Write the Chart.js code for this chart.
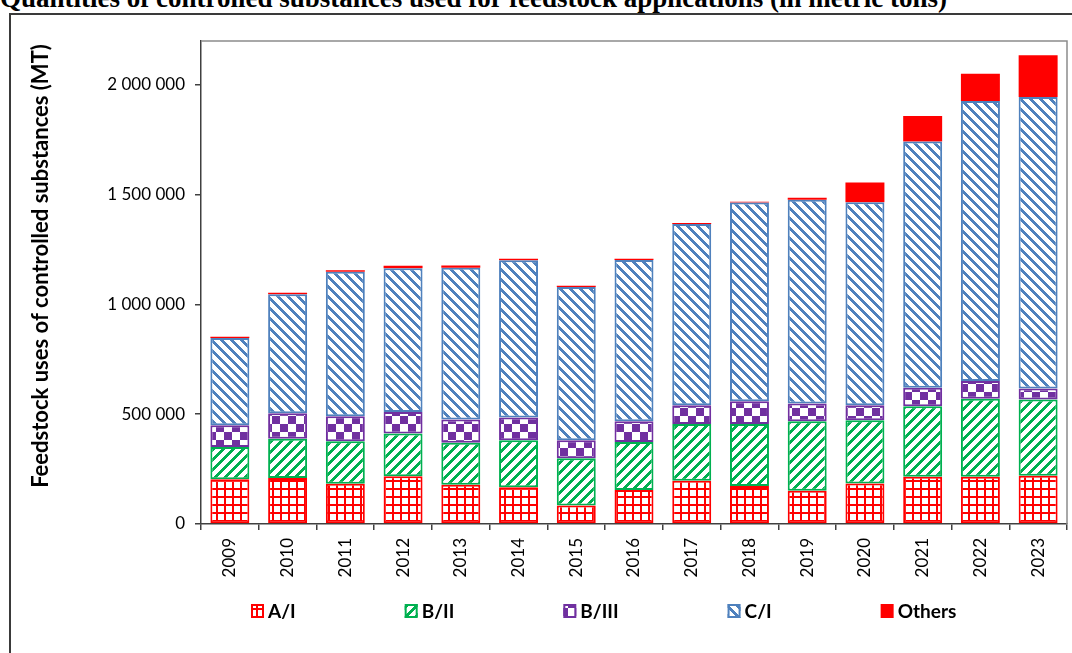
<!DOCTYPE html>
<html>
<head>
<meta charset="utf-8">
<script src="https://cdn.jsdelivr.net/npm/chart.js@4.4.1/dist/chart.umd.min.js"></script>
<style>
  html, body { margin: 0; padding: 0; background: #fff; overflow: hidden; }
  body { width: 1072px; height: 653px; position: relative; }
  #title { position: absolute; left: 0; top: -15px; font: bold 27px "Liberation Serif", serif; line-height: 27px; white-space: nowrap; color: #000; }
  #frame { position: absolute; left: 9px; top: 13px; width: 1100px; height: 700px; border: 2px solid #3a3a3a; box-sizing: border-box; }
  #chart { position: absolute; left: 0; top: 0; }
</style>
</head>
<body>
<div id="title">Quantities of controlled substances used for feedstock applications (in metric tons)</div>
<div id="frame"></div>
<canvas id="chart" width="1072" height="653"></canvas>
<script>
const years = ["2009", "2010", "2011", "2012", "2013", "2014", "2015", "2016", "2017", "2018", "2019", "2020", "2021", "2022", "2023"];
const aI = [204000, 210000, 183000, 218000, 179000, 167000, 84000, 155000, 197000, 173000, 151000, 185000, 215000, 215000, 220000];
const bII = [147000, 178000, 194000, 194000, 191000, 215000, 215000, 219000, 258000, 282000, 317000, 288000, 321000, 356000, 347000];
const bIII = [99000, 116000, 114000, 98000, 106000, 103000, 83000, 94000, 86000, 104000, 81000, 68000, 85000, 80000, 50000];
const cI = [397000, 543000, 658000, 655000, 691000, 716000, 698000, 735000, 826000, 905000, 928000, 924000, 1121000, 1276000, 1328000];
const others = [6000, 6000, 7000, 11000, 10000, 7000, 5000, 5000, 4000, 4000, 9000, 91000, 116000, 124000, 190000];
const yTicks = [0, 500000, 1000000, 1500000, 2000000];
const yMax = 2200000;

const canvas = document.getElementById("chart");
const ctx = canvas.getContext("2d");

// excel-like fill patterns
function makePattern(color, kind) {
  const s = kind === "check" ? 16 : (kind === "grid" ? 8 : 10);
  const c = document.createElement("canvas");
  c.width = s; c.height = s;
  const g = c.getContext("2d");
  g.fillStyle = "#fff";
  g.fillRect(0, 0, s, s);
  g.fillStyle = color;
  if (kind === "grid") {
    g.fillRect(0, 0, s, 2);
    g.fillRect(0, 0, 2, s);
  } else if (kind === "check") {
    g.fillRect(0, 0, 8, 8);
    g.fillRect(8, 8, 8, 8);
  } else {
    for (let y = 0; y < s; y++) {
      for (let x = 0; x < s; x++) {
        const d = kind === "up" ? (x + y) % s : ((x - y) % s + s) % s;
        if (d < 4) g.fillRect(x, y, 1, 1);
      }
    }
  }
  return ctx.createPattern(c, "repeat");
}

const series = [
  { label: "A/I", data: aI, color: "#FF0000", kind: "grid" },
  { label: "B/II", data: bII, color: "#00B050", kind: "up" },
  { label: "B/III", data: bIII, color: "#7030A0", kind: "check" },
  { label: "C/I", data: cI, color: "#4F81BD", kind: "down" },
  { label: "Others", data: others, color: "#FF0000", kind: "solid" }
];

const fmt = v => String(v).replace(/\B(?=(\d{3})+(?!\d))/g, " ");

const plotFrame = {
  id: "plotFrame",
  beforeDatasetsDraw(chart) {
    const { ctx, chartArea: a } = chart;
    ctx.save();
    ctx.strokeStyle = "#8c8c8c";
    ctx.lineWidth = 1.5;
    ctx.beginPath();
    ctx.moveTo(a.left, a.top);
    ctx.lineTo(a.right, a.top);
    ctx.lineTo(a.right, a.bottom);
    ctx.stroke();
    ctx.restore();
  }
};

const extras = {
  id: "extras",
  afterDraw(chart) {
    const ctx = chart.ctx;
    ctx.save();
    // y axis title
    ctx.translate(41, 266);
    ctx.rotate(-Math.PI / 2);
    ctx.font = "bold 22px Lato";
    ctx.fillStyle = "#000";
    ctx.textAlign = "center";
    ctx.textBaseline = "middle";
    ctx.fillText("Feedstock uses of controlled substances (MT)", 0, 0);
    ctx.restore();

    // legend
    ctx.save();
    ctx.font = "bold 19px Lato";
    ctx.textBaseline = "middle";
    let x = 251;
    const y = 611;
    chart.data.datasets.forEach(ds => {
      ctx.fillStyle = ds.backgroundColor;
      ctx.fillRect(x, y - 7, 13, 14);
      if (ds.borderWidth) {
        ctx.strokeStyle = ds.borderColor;
        ctx.lineWidth = 2;
        ctx.strokeRect(x + 1, y - 6, 11, 12);
      }
      ctx.fillStyle = "#000";
      ctx.fillText(ds.label, x + 17, y + 1);
      x += 17 + ctx.measureText(ds.label).width + 109;
    });
    ctx.restore();
  }
};

Chart.defaults.font.family = "Lato";
Chart.defaults.color = "#000";

new Chart(ctx, {
  type: "bar",
  data: {
    labels: years,
    datasets: series.map(s => ({
      label: s.label,
      data: s.data,
      backgroundColor: s.kind === "solid" ? s.color : makePattern(s.color, s.kind),
      borderColor: s.color,
      borderWidth: s.kind === "solid" ? 0 : 2,
      borderSkipped: false,
      barPercentage: 0.675,
      categoryPercentage: 1
    }))
  },
  options: {
    responsive: false,
    animation: false,
    devicePixelRatio: 1,
    layout: { padding: { left: 90, top: 41, right: 5, bottom: 69 } },
    plugins: {
      legend: { display: false },
      tooltip: { enabled: false }
    },
    scales: {
      x: {
        stacked: true,
        ticks: { minRotation: 90, maxRotation: 90, autoSkip: false, padding: 8, font: { size: 17 } },
        grid: { drawOnChartArea: false, tickLength: 6, color: "#404040", lineWidth: 1.5, offset: true },
        border: { color: "#404040", width: 1.5 },
        afterFit: s => { s.height = 60; }
      },
      y: {
        stacked: true,
        min: 0,
        max: yMax,
        afterBuildTicks: s => { s.ticks = yTicks.map(v => ({ value: v })); },
        ticks: { padding: 10, autoSkip: false, font: { size: 17 }, callback: v => fmt(v) },
        grid: { drawOnChartArea: false, tickLength: 6, color: "#404040", lineWidth: 1.5 },
        border: { color: "#404040", width: 1.5 },
        afterFit: s => { s.width = 111; }
      }
    }
  },
  plugins: [plotFrame, extras]
});
</script>
</body>
</html>
